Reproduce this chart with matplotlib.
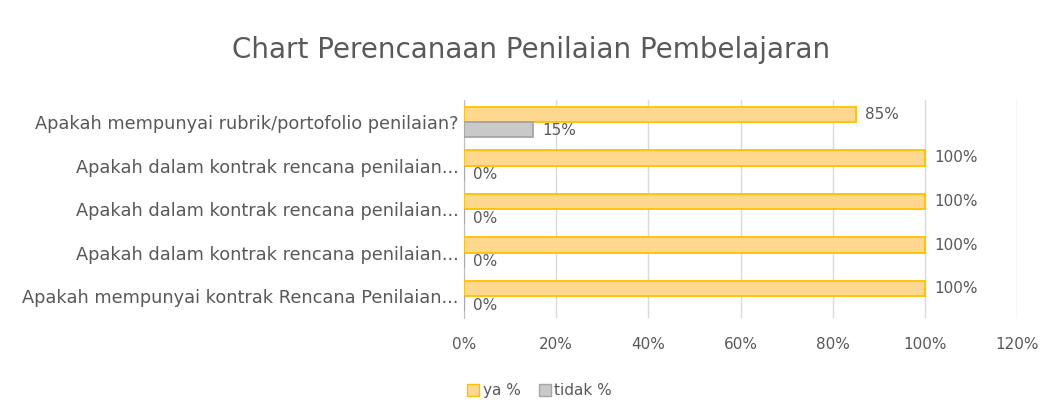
import matplotlib.pyplot as plt
from matplotlib.patches import Patch

categories = [
    'Apakah mempunyai rubrik/portofolio penilaian?',
    'Apakah dalam kontrak rencana penilaian...',
    'Apakah dalam kontrak rencana penilaian...',
    'Apakah dalam kontrak rencana penilaian...',
    'Apakah mempunyai kontrak Rencana Penilaian...',
]
ya = [85, 100, 100, 100, 100]
tidak = [15, 0, 0, 0, 0]
xticks = [0, 20, 40, 60, 80, 100, 120]

text_col = '#595959'
ya_fill, ya_edge = '#FFD88F', '#FFC000'
tidak_fill, tidak_edge = '#C9C9C9', '#A5A5A5'

fig = plt.figure(figsize=(10.62, 4.19), dpi=100)
ax = fig.add_axes([0.437, 0.241, 0.5206, 0.52])

pos = list(range(len(categories)))
h = 0.35
ax.barh([p - h / 2 for p in pos], ya, height=h, color=ya_fill, edgecolor=ya_edge, linewidth=1.3, zorder=3)
ax.barh([p + h / 2 for p in pos], tidak, height=h, color=tidak_fill, edgecolor=tidak_edge, linewidth=1.3, zorder=3)

for p, v in zip(pos, ya):
    ax.text(v + 2, p - h / 2, f'{v}%', va='center', ha='left', fontsize=11, color=text_col)
for p, v in zip(pos, tidak):
    ax.text(v + 2, p + h / 2 + 0.03, f'{v}%', va='center', ha='left', fontsize=11, color=text_col)

ax.set_xlim(0, 120)
ax.set_ylim(len(categories) - 0.5, -0.5)
ax.set_xticks(xticks)
ax.set_xticklabels([f'{t}%' for t in xticks])
ax.set_yticks(pos)
ax.set_yticklabels(categories, fontsize=12.8)
ax.tick_params(axis='both', length=0, colors=text_col)
ax.tick_params(axis='x', pad=14, labelsize=11)
ax.tick_params(axis='y', pad=4)
ax.grid(axis='x', color='#D9D9D9', linewidth=1, zorder=0)
for s in ['top', 'right', 'bottom']:
    ax.spines[s].set_visible(False)
ax.spines['left'].set_color('#BFBFBF')

fig.text(0.5, 0.88, 'Chart Perencanaan Penilaian Pembelajaran', ha='center', va='center',
         fontsize=20, color=text_col)

handles = [Patch(facecolor=ya_fill, edgecolor=ya_edge, label='ya %'),
           Patch(facecolor=tidak_fill, edgecolor=tidak_edge, label='tidak %')]
fig.legend(handles=handles, loc='center', bbox_to_anchor=(0.508, 0.067), ncol=2, frameon=False,
           fontsize=11, handlelength=0.8, handleheight=0.8, handletextpad=0.2, columnspacing=1.2,
           labelcolor=text_col)

fig.savefig('out.png', dpi=100)
